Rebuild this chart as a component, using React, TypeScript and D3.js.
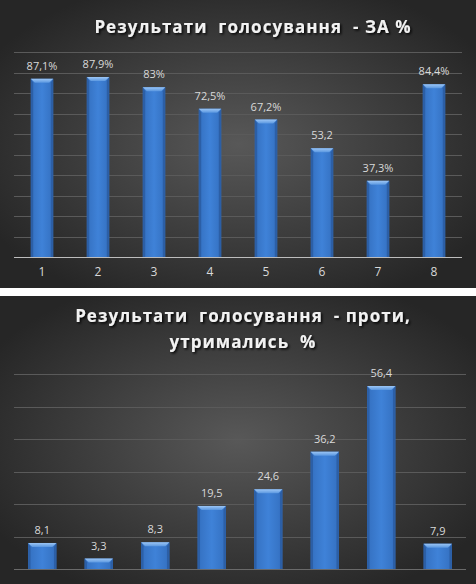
import { useEffect, useRef } from "react";
import * as d3 from "d3";

const CATEGORIES = ["1", "2", "3", "4", "5", "6", "7", "8"];
const ZA_VALUES = [87.1, 87.9, 83, 72.5, 67.2, 53.2, 37.3, 84.4];
const ZA_LABELS = ["87,1%", "87,9%", "83%", "72,5%", "67,2%", "53,2", "37,3%", "84,4%"];
const PROTY_VALUES = [8.1, 3.3, 8.3, 19.5, 24.6, 36.2, 56.4, 7.9];
const PROTY_LABELS = ["8,1", "3,3", "8,3", "19,5", "24,6", "36,2", "56,4", "7,9"];
const ZA_TITLE = ["Результати  голосування  - ЗА %"];
const PROTY_TITLE = ["Результати  голосування  - проти,", "утримались  %"];

type Panel = {
  id: string;
  top: number;
  values: number[];
  labels: string[];
  title: string[];
  titleX: number;
  titleY: number;
  yMax: number;
  x0: number;
  x1: number;
  yBottom: number;
  yTop: number;
  padInner: number;
  padOuter: number;
  axisColor: string;
  showCats: boolean;
};

const W = 476, H = 584, PANEL_H = 288;

export default function App() {
  const svgRef = useRef<SVGSVGElement | null>(null);

  useEffect(() => {
    if (!svgRef.current) return;
    const svg = d3.select(svgRef.current);
    svg.selectAll("*").remove();
    svg.attr("width", W).attr("height", H).attr("viewBox", `0 0 ${W} ${H}`);

    const defs = svg.append("defs");

    const bg = defs.append("radialGradient").attr("id", "bg")
      .attr("cx", "50%").attr("cy", "50%").attr("r", "60%");
    bg.append("stop").attr("offset", "0%").attr("stop-color", "#585858");
    bg.append("stop").attr("offset", "100%").attr("stop-color", "#262626");

    const barGrad = defs.append("linearGradient").attr("id", "barFill")
      .attr("x1", "0").attr("x2", "1").attr("y1", "0").attr("y2", "0");
    barGrad.append("stop").attr("offset", "0%").attr("stop-color", "#3470c0");
    barGrad.append("stop").attr("offset", "50%").attr("stop-color", "#3f82d8");
    barGrad.append("stop").attr("offset", "100%").attr("stop-color", "#3470c0");

    const bevelGrad = defs.append("linearGradient").attr("id", "bevelTop")
      .attr("x1", "0").attr("x2", "0").attr("y1", "0").attr("y2", "1");
    bevelGrad.append("stop").attr("offset", "0%").attr("stop-color", "#9cc6f5");
    bevelGrad.append("stop").attr("offset", "100%").attr("stop-color", "#5a97e0");

    const shadow = defs.append("filter").attr("id", "tshadow")
      .attr("x", "-10%").attr("y", "-30%").attr("width", "120%").attr("height", "160%");
    shadow.append("feDropShadow").attr("dx", 1.5).attr("dy", 1.5)
      .attr("stdDeviation", 0.8).attr("flood-color", "#000").attr("flood-opacity", 0.9);

    const panels: Panel[] = [
      {
        id: "za", top: 0, values: ZA_VALUES, labels: ZA_LABELS, title: ZA_TITLE,
        titleX: 253, titleY: 27, yMax: 100, x0: 14, x1: 462, yBottom: 257.3, yTop: 52.3,
        padInner: 0.6, padOuter: 0.3, axisColor: "#bdbdbd", showCats: true,
      },
      {
        id: "proty", top: 296, values: PROTY_VALUES, labels: PROTY_LABELS, title: PROTY_TITLE,
        titleX: 243, titleY: 316, yMax: 60, x0: 14, x1: 466, yBottom: 569.3, yTop: 374.3,
        padInner: 0.5, padOuter: 0.25, axisColor: "#6a6a6a", showCats: false,
      },
    ];

    panels.forEach((p) => {
      const clip = defs.append("clipPath").attr("id", `clip-${p.id}`);
      clip.append("rect").attr("x", 0).attr("y", p.top).attr("width", W).attr("height", PANEL_H);

      const g = svg.append("g").attr("clip-path", `url(#clip-${p.id})`);
      g.append("rect").attr("x", 0).attr("y", p.top).attr("width", W).attr("height", PANEL_H)
        .attr("fill", "url(#bg)");

      const x = d3.scaleBand<string>().domain(CATEGORIES).range([p.x0, p.x1])
        .paddingInner(p.padInner).paddingOuter(p.padOuter);
      const y = d3.scaleLinear().domain([0, p.yMax]).range([p.yBottom, p.yTop]);

      // gridlines
      g.append("g").selectAll("line").data(y.ticks(p.yMax / 10).filter((t) => t > 0)).join("line")
        .attr("x1", p.x0).attr("x2", p.x1)
        .attr("y1", (d) => Math.round(y(d)) + 0.5).attr("y2", (d) => Math.round(y(d)) + 0.5)
        .attr("stroke", "#5a5a5a").attr("stroke-width", 1);

      // bars with bevel
      const bw = x.bandwidth();
      const b = 4;
      const bars = g.append("g").selectAll("g").data(p.values).join("g");
      bars.append("rect")
        .attr("x", (_, i) => x(CATEGORIES[i])!).attr("y", (d) => y(d))
        .attr("width", bw).attr("height", (d) => p.yBottom - y(d))
        .attr("fill", "url(#barFill)");
      bars.append("polygon")
        .attr("points", (d, i) => {
          const xa = x(CATEGORIES[i])!, yt = y(d), ybt = p.yBottom;
          return `${xa},${yt} ${xa + b * 0.6},${yt + b} ${xa + b * 0.6},${ybt} ${xa},${ybt}`;
        })
        .attr("fill", "#2c5fa6");
      bars.append("polygon")
        .attr("points", (d, i) => {
          const xb = x(CATEGORIES[i])! + bw, yt = y(d), ybt = p.yBottom;
          return `${xb},${yt} ${xb - b * 0.6},${yt + b} ${xb - b * 0.6},${ybt} ${xb},${ybt}`;
        })
        .attr("fill", "#2c5fa6");
      bars.append("polygon")
        .attr("points", (d, i) => {
          const xa = x(CATEGORIES[i])!, xb = xa + bw, yt = y(d);
          return `${xa},${yt} ${xb},${yt} ${xb - b},${yt + b} ${xa + b},${yt + b}`;
        })
        .attr("fill", "url(#bevelTop)");

      // value labels
      g.append("g").selectAll("text").data(p.values).join("text")
        .attr("x", (_, i) => x(CATEGORIES[i])! + bw / 2).attr("y", (d) => y(d) - 9)
        .attr("text-anchor", "middle").attr("font-family", "'Open Sans', sans-serif")
        .attr("font-size", 11).attr("fill", "#d9d9d9")
        .text((_, i) => p.labels[i]);

      // axis line
      g.append("line").attr("x1", p.x0).attr("x2", p.x1)
        .attr("y1", Math.round(p.yBottom) + 0.5).attr("y2", Math.round(p.yBottom) + 0.5)
        .attr("stroke", p.axisColor).attr("stroke-width", 1.2);

      // category labels
      if (p.showCats) {
        g.append("g").selectAll("text").data(CATEGORIES).join("text")
          .attr("x", (d) => x(d)! + bw / 2).attr("y", p.yBottom + 19)
          .attr("text-anchor", "middle").attr("font-family", "'Open Sans', sans-serif")
          .attr("font-size", 12).attr("fill", "#d9d9d9")
          .text((d) => d);
      }

      // title
      const t = g.append("text").attr("text-anchor", "middle")
        .attr("font-family", "'Open Sans', sans-serif").attr("font-weight", 700)
        .attr("font-size", 17).attr("letter-spacing", 1.05).attr("fill", "#f2f2f2")
        .attr("filter", "url(#tshadow)").attr("xml:space", "preserve")
        .style("white-space", "pre");
      p.title.forEach((line, i) => {
        t.append("tspan").attr("x", p.titleX).attr("y", p.titleY + i * 25.7)
          .attr("dy", "0.35em").text(line);
      });
    });
  }, []);

  return (
    <svg ref={svgRef} style={{ position: "absolute", left: 0, top: 0, display: "block", background: "#fff" }} />
  );
}
